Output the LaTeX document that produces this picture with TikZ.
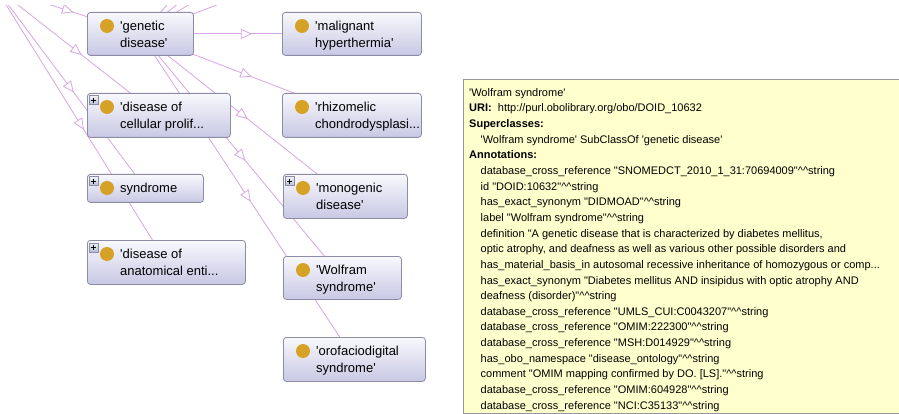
\documentclass[tikz,border=0pt]{standalone}
\usepackage{fontspec}
\setmainfont{Liberation Sans}[Ligatures={TeXOff,NoCommon}]
\usetikzlibrary{calc,decorations.markings}

\definecolor{edgecol}{RGB}{214,166,230}
\definecolor{boxtop}{RGB}{248,248,253}
\definecolor{boxbot}{RGB}{200,200,228}
\definecolor{boxline}{RGB}{140,140,165}
\definecolor{dotgold}{RGB}{214,162,38}
\definecolor{plustop}{RGB}{238,242,248}
\definecolor{plusbot}{RGB}{180,190,208}
\definecolor{tipfill}{RGB}{255,255,206}
\definecolor{tipline}{RGB}{150,150,150}

\pgfdeclarelayer{bg}
\pgfdeclarelayer{edges}
\pgfsetlayers{bg,edges,main}

\tikzset{
  classbox/.style={draw=boxline, line width=0.8pt, rounded corners=3pt,
    top color=boxtop, bottom color=boxbot, inner sep=0pt},
  classdot/.style={circle, fill=dotgold, minimum size=14pt, inner sep=0pt},
  classtext/.style={inner sep=0pt, align=left, text=black,
    font=\fontsize{13}{17}\selectfont},
  plusbox/.style={rectangle, draw=boxline, line width=0.6pt, minimum size=9pt,
    inner sep=0pt, top color=plustop, bottom color=plusbot,
    path picture={\draw[line width=0.9pt, black]
      ([xshift=-2.5pt]path picture bounding box.center) --
      ([xshift=2.5pt]path picture bounding box.center)
      ([yshift=-2.5pt]path picture bounding box.center) --
      ([yshift=2.5pt]path picture bounding box.center);}},
  isa/.style={draw=edgecol, line width=0.8pt, postaction={decorate},
    decoration={markings, mark=at position 0.5 with {
      \draw[edgecol, line width=0.8pt, fill=white, line join=miter]
        (5pt,0pt) -- (-5pt,4.5pt) -- (-5pt,-4.5pt) -- cycle;}}},
  tipbox/.style={rectangle, draw=tipline, line width=1pt, fill=tipfill,
    inner sep=0pt},
  tiptext/.style={inner sep=0pt, align=left, text=black,
    font=\fontsize{11}{15.65}\selectfont},
}

% class box: name, left, top, width, height, label
\newcommand\ogclass[6]{%
  \node[classbox, anchor=north west, minimum width=#4pt, minimum height=#5pt]
    (#1) at (#2,#3) {};
  \node[classdot] (#1-dot) at (#2+20,#3+14) {};
  \node[classtext, anchor=north west] (#1-label) at (#2+33,#3+8.5)
    {\rule{0pt}{10pt}#6};
}
% expand marker in the upper left corner of a class box
\newcommand\ogplus[1]{%
  \node[plusbox, anchor=north west] (#1-plus)
    at ([shift={(2pt,-2.5pt)}]#1.north west) {};
}
\newcommand\dcaret{\textasciicircum\textasciicircum}
\newcommand\ind{\hspace*{11.5pt}}

\begin{document}
\begin{tikzpicture}[x=1pt,y=-1pt]
\useasboundingbox (0,0) rectangle (899,414);
\begin{pgfonlayer}{bg}
  \fill[white] (0,0) rectangle (899,414);
\end{pgfonlayer}

% classes
\ogclass{genetic}{87}{12}{106}{43}{'genetic\\disease'}
\ogclass{malignant}{282}{12}{139}{43}{'malignant\\hyperthermia'}
\ogclass{cellular}{87}{93}{143}{44}{'disease of\\cellular prolif...}
\ogclass{rhizomelic}{282}{93}{139}{44}{'rhizomelic\\chondrodysplasi...}
\ogclass{syndrome}{87}{174}{116}{28}{syndrome}
\ogclass{monogenic}{283}{174}{124}{44}{'monogenic\\disease'}
\ogclass{anatomical}{87}{240}{158}{44}{'disease of\\anatomical enti...}
\ogclass{wolfram}{283}{256}{118}{43}{'Wolfram\\syndrome'}
\ogclass{orofacio}{283}{337}{142}{44}{'orofaciodigital\\syndrome'}
\ogplus{cellular}
\ogplus{syndrome}
\ogplus{monogenic}
\ogplus{anatomical}

% classes outside the visible area
\coordinate (disease) at (-5,-13);
\coordinate (up1) at (218,-50);
\coordinate (up2) at (245,-50);
\coordinate (up3) at (280,-50);
\coordinate (up4) at (362,-50);

% subclass edges, beneath the boxes
\begin{pgfonlayer}{edges}
\begin{scope}
  \clip (0,6) rectangle (899,414);
  \draw[isa] (disease) -- (genetic.center);
  \draw[isa] (disease) -- (cellular.center);
  \draw[isa] (disease) -- (syndrome.center);
  \draw[isa] (disease) -- (anatomical.center);
  \draw[isa] (genetic.center) -- (up1);
  \draw[isa] (genetic.center) -- (up2);
  \draw[isa] (genetic.center) -- (up3);
  \draw[isa] (genetic.center) -- (up4);
  \draw[isa] (genetic.center) -- (malignant.center);
  \draw[isa] (genetic.center) -- (rhizomelic.center);
  \draw[isa] (genetic.center) -- (monogenic.center);
  \draw[isa] (genetic.center) -- (wolfram.center);
  \draw[isa] (genetic.center) -- (orofacio.center);
\end{scope}
\end{pgfonlayer}

% tooltip with the class description
\node[tipbox, anchor=north west, minimum width=445pt, minimum height=334pt]
  (tip) at (463,79) {};
\node[tiptext, anchor=north west] (tip-text) at (469,86) {%
\rule{0pt}{10pt}'Wolfram syndrome'\\
\textbf{URI:}\ \ http://purl.obolibrary.org/obo/DOID\_10632\\
\textbf{Superclasses:}\\
\ind'Wolfram syndrome' SubClassOf 'genetic disease'\\
\textbf{Annotations:}\\
\ind database\_cross\_reference "SNOMEDCT\_2010\_1\_31:70694009"\dcaret string\\
\ind id "DOID:10632"\dcaret string\\
\ind has\_exact\_synonym "DIDMOAD"\dcaret string\\
\ind label "Wolfram syndrome"\dcaret string\\
\ind definition "A genetic disease that is characterized by diabetes mellitus,\\
\ind optic atrophy, and deafness as well as various other possible disorders and\\
\ind has\_material\_basis\_in autosomal recessive inheritance of homozygous or comp...\\
\ind has\_exact\_synonym "Diabetes mellitus AND insipidus with optic atrophy AND\\
\ind deafness (disorder)"\dcaret string\\
\ind database\_cross\_reference "UMLS\_CUI:C0043207"\dcaret string\\
\ind database\_cross\_reference "OMIM:222300"\dcaret string\\
\ind database\_cross\_reference "MSH:D014929"\dcaret string\\
\ind has\_obo\_namespace "disease\_ontology"\dcaret string\\
\ind comment "OMIM mapping confirmed by DO. [LS]."\dcaret string\\
\ind database\_cross\_reference "OMIM:604928"\dcaret string\\
\ind database\_cross\_reference "NCI:C35133"\dcaret string};
\end{tikzpicture}
\end{document}
